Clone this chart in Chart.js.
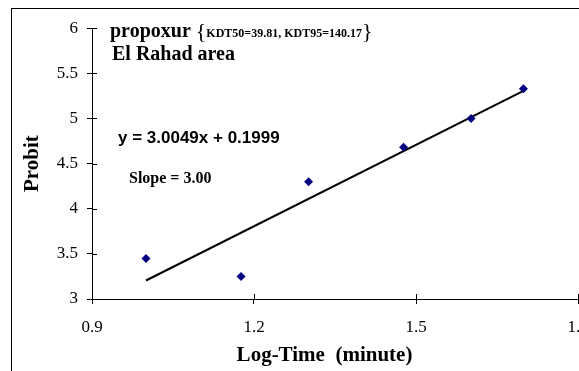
<!DOCTYPE html>
<html>
<head>
<meta charset="utf-8">
<script src="https://cdn.jsdelivr.net/npm/chart.js@4"></script>
<style>
  html, body { margin: 0; padding: 0; background: #fff; overflow: hidden; }
  #frame { position: absolute; left: 11px; top: 8px; border-left: 1px solid #000; border-top: 1px solid #000; }
  #frame canvas { display: block; }
</style>
</head>
<body>
<div id="frame"><canvas id="probitChart" width="620" height="380"></canvas></div>
<script>
// data
const logTime = [1.0, 1.176, 1.301, 1.477, 1.602, 1.699];
const probit = [3.45, 3.25, 4.30, 4.68, 5.00, 5.33];
// trend line ends (y = 3.0049x + 0.1999)
const trendX = [1.0, 1.699];
const trendY = [3.205, 5.305];
const xTicks = [0.9, 1.2, 1.5, 1.8];
const yTicks = [3, 3.5, 4, 4.5, 5, 5.5, 6];

const serif = '"Liberation Serif", "Times New Roman", serif';

// text placed on the chart like in the original sheet
const textRuns = [
  { x: 98, y: 28, parts: [
    { t: 'propoxur ', f: 'bold 20px ' + serif },
    { t: '{', f: '22px ' + serif, dy: 1 },
    { t: 'KDT50=39.81, KDT95=140.17', f: 'bold 12px ' + serif },
    { t: '}', f: '22px ' + serif, dy: 1 }
  ]},
  { x: 100, y: 51, parts: [{ t: 'El Rahad area', f: 'bold 20px ' + serif }] },
  { x: 106, y: 134, parts: [{ t: 'y = 3.0049x + 0.1999', f: 'bold 17px "Liberation Sans", Arial, sans-serif' }] },
  { x: 117, y: 174, parts: [{ t: 'Slope = 3.00', f: 'bold 16px ' + serif }] }
];

const notesPlugin = {
  id: 'notes',
  afterDraw(chart) {
    const ctx = chart.ctx;
    ctx.save();
    ctx.fillStyle = '#000';
    ctx.textBaseline = 'alphabetic';
    ctx.textAlign = 'left';
    textRuns.forEach(run => {
      let x = run.x;
      run.parts.forEach(p => {
        ctx.font = p.f;
        ctx.fillText(p.t, x, run.y + (p.dy || 0));
        x += ctx.measureText(p.t).width;
      });
    });
    ctx.restore();
  }
};

// Excel style ticks cross the axis: draw the inner half
const innerTicks = {
  id: 'innerTicks',
  afterDraw(chart) {
    const ctx = chart.ctx;
    const xs = chart.scales.x, ys = chart.scales.y;
    ctx.save();
    ctx.strokeStyle = '#000';
    ctx.lineWidth = 1;
    ctx.beginPath();
    xs.ticks.forEach(t => {
      const px = Math.round(xs.getPixelForValue(t.value)) + 0.5;
      ctx.moveTo(px, ys.bottom);
      ctx.lineTo(px, ys.bottom - 5);
    });
    ys.ticks.forEach(t => {
      const py = Math.round(ys.getPixelForValue(t.value)) + 0.5;
      ctx.moveTo(xs.left, py);
      ctx.lineTo(xs.left + 5, py);
    });
    ctx.stroke();
    ctx.restore();
  }
};

const ctx = document.getElementById('probitChart').getContext('2d');

new Chart(ctx, {
  type: 'scatter',
  data: {
    datasets: [
      {
        label: 'Probit',
        data: logTime.map((v, i) => ({ x: v, y: probit[i] })),
        pointStyle: 'rectRot',
        pointRadius: 4.5,
        pointHoverRadius: 4.5,
        backgroundColor: '#000080',
        borderColor: '#000080',
        borderWidth: 0,
        order: 1
      },
      {
        label: 'Linear',
        type: 'line',
        data: trendX.map((v, i) => ({ x: v, y: trendY[i] })),
        borderColor: '#000',
        borderWidth: 2,
        pointRadius: 0,
        fill: false,
        order: 2
      }
    ]
  },
  options: {
    responsive: false,
    animation: false,
    layout: { padding: { top: 13, right: 54, bottom: 10, left: 0 } },
    plugins: {
      legend: { display: false },
      tooltip: { enabled: false }
    },
    scales: {
      x: {
        type: 'linear',
        min: 0.9,
        max: 1.8,
        afterBuildTicks: s => { s.ticks = xTicks.map(v => ({ value: v })); },
        afterFit: s => { s.height = 80; },
        ticks: {
          color: '#000',
          padding: 13,
          maxRotation: 0,
          font: { family: serif, size: 17 },
          callback: v => Number(v).toFixed(1)
        },
        grid: { drawOnChartArea: false, tickLength: 5, color: '#000', lineWidth: 1 },
        border: { display: true, color: '#000', width: 1 },
        title: {
          display: true,
          text: 'Log-Time  (minute)\u00a0\u00a0\u00a0\u00a0',
          color: '#000',
          font: { family: serif, size: 21, weight: 'bold' },
          padding: { top: 0, bottom: 11 }
        }
      },
      y: {
        min: 3,
        max: 6,
        afterBuildTicks: s => { s.ticks = yTicks.map(v => ({ value: v })); },
        afterFit: s => { s.width = 80; },
        ticks: {
          color: '#000',
          padding: 9,
          font: { family: serif, size: 17 },
          callback: v => String(v)
        },
        grid: { drawOnChartArea: false, tickLength: 5, color: '#000', lineWidth: 1 },
        border: { display: true, color: '#000', width: 1 },
        title: {
          display: true,
          text: 'Probit',
          color: '#000',
          font: { family: serif, size: 21, weight: 'bold' },
          padding: { top: 8, bottom: 0 }
        }
      }
    }
  },
  plugins: [notesPlugin, innerTicks]
});
</script>
</body>
</html>
